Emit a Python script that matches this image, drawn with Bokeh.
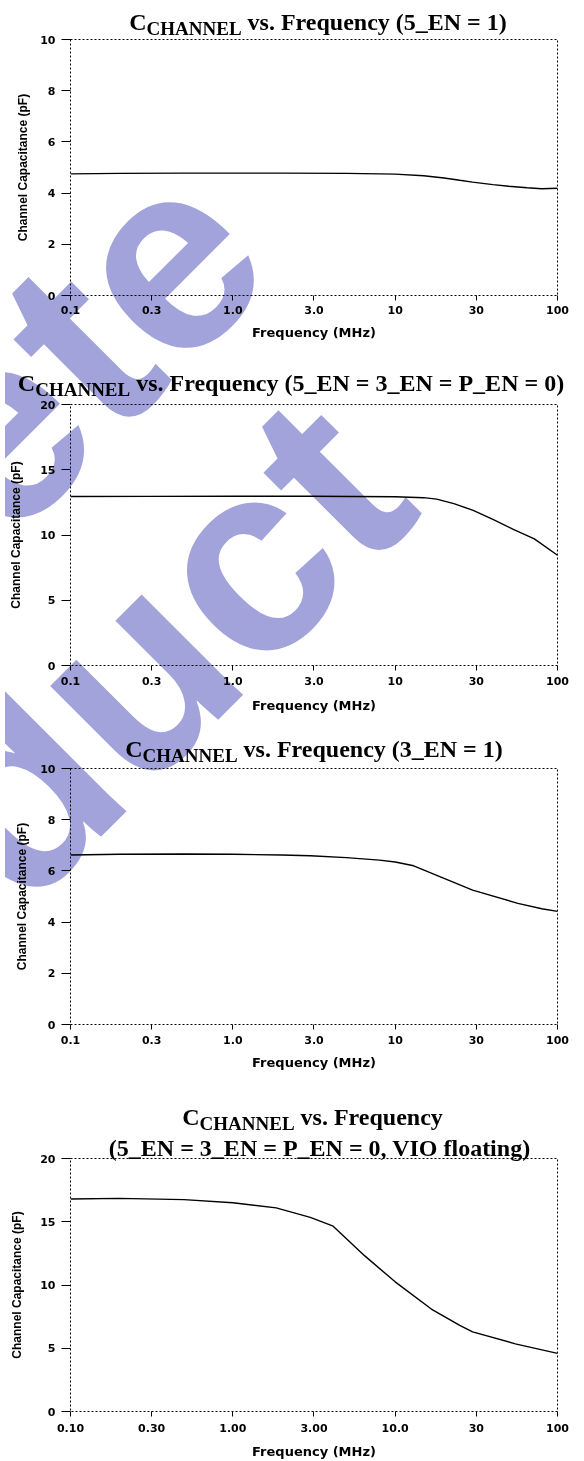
import math
from bokeh.plotting import figure
from bokeh.layouts import column
from bokeh.models import Range1d, FixedTicker, CustomJSTickFormatter, Div
from bokeh.embed import file_html
from bokeh.resources import INLINE

# ---------------- data ----------------
freq_1 = [0.1, 0.2, 0.5, 1, 2, 5, 10, 15, 20, 25, 30, 40, 50, 65, 80, 100]
cap_1 = [4.75, 4.77, 4.78, 4.78, 4.78, 4.77, 4.74, 4.68, 4.59, 4.5, 4.43, 4.33, 4.27, 4.21, 4.17, 4.19]

freq_2 = [0.1, 0.3, 1, 3, 10, 15, 18, 23, 30, 40, 53, 72, 100]
cap_2 = [12.95, 12.96, 12.97, 12.97, 12.93, 12.86, 12.75, 12.4, 11.9, 11.2, 10.45, 9.7, 8.45]

freq_3 = [0.1, 0.2, 0.5, 1, 2, 3, 5, 8, 10, 13, 19, 30, 57, 80, 100]
cap_3 = [6.62, 6.65, 6.66, 6.65, 6.62, 6.59, 6.52, 6.42, 6.35, 6.2, 5.77, 5.25, 4.73, 4.52, 4.42]

freq_4 = [0.1, 0.2, 0.5, 1, 1.85, 3, 4.15, 6.5, 10, 16.7, 25, 30, 55, 100]
cap_4 = [16.8, 16.85, 16.75, 16.5, 16.1, 15.35, 14.65, 12.3, 10.25, 8.1, 6.8, 6.3, 5.35, 4.6]

x_ticks = [0.1, 0.3162, 1, 3.162, 10, 31.62, 100]
x_labels_a = ["0.1", "0.3", "1.0", "3.0", "10", "30", "100"]
x_labels_b = ["0.10", "0.30", "1.00", "3.00", "10.0", "30", "100"]
y_ticks_10 = [0, 2, 4, 6, 8, 10]
y_ticks_20 = [0, 5, 10, 15, 20]

title_big = "C"
title_sub = "CHANNEL"
title_rest = ["vs. Frequency (5_EN = 1)",
              "vs. Frequency (5_EN = 3_EN = P_EN = 0)",
              "vs. Frequency (3_EN = 1)",
              "vs. Frequency"]
title_line2 = "(5_EN = 3_EN = P_EN = 0, VIO floating)"
x_label = "Frequency (MHz)"
y_label = "Channel Capacitance (pF)"
watermark = ["Obsolete", "Product"]

# ---------------- layout (page pixel geometry) ----------------
PAGE_W, PAGE_H = 584, 1461
specs = [
    dict(top=0, bottom=346, fl=70, fr=562, ft=39, fb=295, ymax=10, yt=y_ticks_10,
         xl=x_labels_a, ts=5, xs=8, ys=7),
    dict(top=346, bottom=722, fl=70, fr=562, ft=404, fb=665, ymax=20, yt=y_ticks_20,
         xl=x_labels_a, ts=6, xs=10, ys=14),
    dict(top=722, bottom=1074, fl=69, fr=557, ft=768, fb=1024, ymax=10, yt=y_ticks_10,
         xl=x_labels_a, ts=6, xs=8, ys=8),
    dict(top=1074, bottom=1461, fl=70, fr=562, ft=1158, fb=1413, ymax=20, yt=y_ticks_20,
         xl=x_labels_b, ts=7, xs=9, ys=13),
]
series = [(freq_1, cap_1), (freq_2, cap_2), (freq_3, cap_3), (freq_4, cap_4)]

# title placement: (centre x, baseline y) in page pixels
title_pos = [(313, 25.0), (286, 386.5), (309, 752.5), (307.5, 1120.0)]
title2_pos = (314.5, 1151.0)

figs = []
for i, spec in enumerate(specs):
    H = spec["bottom"] - spec["top"]
    p = figure(width=PAGE_W, height=H, x_axis_type="log",
               x_range=Range1d(0.1, 100), y_range=Range1d(0, spec["ymax"]),
               output_backend="svg", toolbar_location=None, title=None,
               min_border_left=spec["fl"],
               min_border_right=PAGE_W - spec["fr"],
               min_border_top=spec["ft"] - spec["top"],
               min_border_bottom=spec["bottom"] - spec["fb"])
    p.xgrid.visible = False
    p.ygrid.visible = False
    p.background_fill_color = "white"
    p.border_fill_color = "white"
    p.outline_line_color = "black"
    p.outline_line_dash = "2 2"
    p.outline_line_width = 1

    fx, fy = series[i]
    p.line(fx, fy, line_color="black", line_width=1.4)

    xa = p.xaxis[0]
    xa.ticker = FixedTicker(ticks=x_ticks, minor_ticks=[])
    xa.formatter = CustomJSTickFormatter(args=dict(t=x_ticks, l=spec["xl"]), code="""
        let b = 0;
        for (let k = 0; k < t.length; k++) {
            if (Math.abs(Math.log10(tick) - Math.log10(t[k])) <
                Math.abs(Math.log10(tick) - Math.log10(t[b]))) b = k;
        }
        return l[b];
    """)
    xa.axis_line_color = None
    xa.major_tick_out = 5
    xa.major_tick_in = 0
    xa.minor_tick_out = 0
    xa.minor_tick_in = 0
    xa.major_tick_line_color = "black"
    xa.major_label_standoff = spec["ts"]
    xa.major_label_text_font = "DejaVu Sans"
    xa.major_label_text_font_style = "bold"
    xa.major_label_text_font_size = "11px"
    xa.major_label_text_color = "black"
    xa.axis_label = x_label
    xa.axis_label_text_font = "DejaVu Sans"
    xa.axis_label_text_font_style = "bold"
    xa.axis_label_text_font_size = "13px"
    xa.axis_label_text_color = "black"
    xa.axis_label_standoff = spec["xs"]

    ya = p.yaxis[0]
    ya.ticker = FixedTicker(ticks=spec["yt"], minor_ticks=[])
    ya.axis_line_color = None
    ya.major_tick_out = 9
    ya.major_tick_in = 0
    ya.minor_tick_out = 0
    ya.minor_tick_in = 0
    ya.major_tick_line_color = "black"
    ya.major_label_standoff = 6
    ya.major_label_text_font = "DejaVu Sans"
    ya.major_label_text_font_style = "bold"
    ya.major_label_text_font_size = "11px"
    ya.major_label_text_color = "black"
    ya.axis_label = y_label
    ya.axis_label_text_font = "Liberation Sans"
    ya.axis_label_text_font_style = "bold"
    ya.axis_label_text_font_size = "12px"
    ya.axis_label_text_color = "black"
    ya.axis_label_standoff = spec["ys"]

    figs.append(p)

# ---------------- overlay: titles with subscript + watermark ----------------
TITLE_FS, SUB_FS, SUB_DROP = 24, 19, 5
ASC = 0.891  # Liberation Serif ascent
BASE_OFF = (TITLE_FS - (0.891 + 0.216) * TITLE_FS) / 2 + ASC * TITLE_FS


def title_div(cx, baseline, inner):
    return (f'<div style="position:absolute;left:{cx - 292:.1f}px;top:{baseline - BASE_OFF:.1f}px;'
            f'width:584px;text-align:center;white-space:nowrap;font-family:\'Liberation Serif\';'
            f'font-weight:bold;font-size:{TITLE_FS}px;line-height:{TITLE_FS}px;color:#000;">'
            f'{inner}</div>')


html = []
# watermark: two centred lines rotated 45 degrees
WM_FS, WM_LH, WM_W = 270, 271, 1200
wm_cx, wm_cy = -102.0, 706.4
html.append(
    f'<div style="position:absolute;left:{wm_cx - WM_W / 2:.1f}px;top:{wm_cy - WM_LH:.1f}px;'
    f'width:{WM_W}px;height:{2 * WM_LH}px;transform:rotate(-45deg);transform-origin:50% 50%;'
    f'font-family:\'Liberation Sans\';font-weight:bold;font-size:{WM_FS}px;line-height:{WM_LH}px;'
    f'color:#A3A3DC;text-align:center;white-space:nowrap;">'
    f'{watermark[0]}<br>{watermark[1]}</div>')
for i, (cx, bl) in enumerate(title_pos):
    inner = (f'{title_big}<span style="font-size:{SUB_FS}px;line-height:{TITLE_FS}px;'
             f'position:relative;top:{SUB_DROP}px;">{title_sub}</span> {title_rest[i]}')
    html.append(title_div(cx, bl, inner))
html.append(title_div(title2_pos[0], title2_pos[1], title_line2))

overlay = Div(text="".join(html), width=PAGE_W, height=PAGE_H,
              styles={"position": "absolute", "left": "0px", "top": "0px",
                      "z-index": "10", "overflow": "hidden",
                      "pointer-events": "none", "mix-blend-mode": "multiply"})

layout = column(overlay, *figs, spacing=0)
open("out.html", "w").write(file_html(layout, INLINE))
